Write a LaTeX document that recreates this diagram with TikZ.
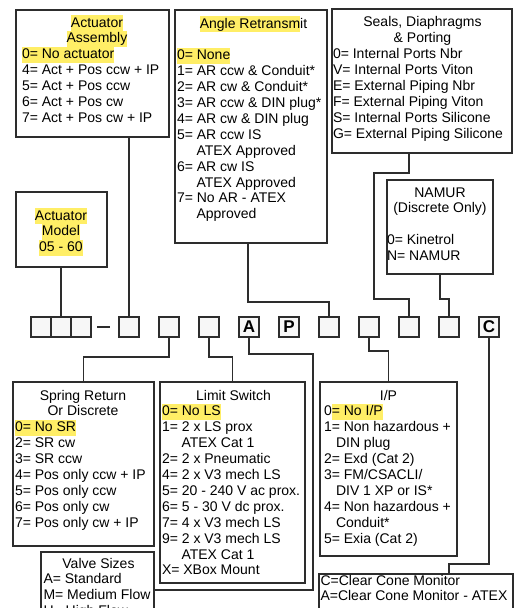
\documentclass[tikz,border=0pt]{standalone}
\usepackage{fontspec}
\setmainfont{Liberation Sans}
\usepackage{array}
\definecolor{hly}{RGB}{255,238,102}
\definecolor{ln}{RGB}{45,45,45}
\newcommand\hl[1]{{\setlength\fboxsep{0pt}\colorbox{hly}{\rule[-3.9pt]{0pt}{15.8pt}#1}}}
\newcommand\boxfont{\fontsize{14}{15.9}\selectfont\setbox\strutbox\hbox{\vrule height 11.9pt depth 4pt width 0pt}}
\newcommand\ind[1]{\hspace*{#1}}
\newcommand\hd[1]{\multicolumn{1}{@{}c@{}}{#1}}
\begin{document}
\begin{tikzpicture}[x=1pt,y=-1pt,
  box/.style={draw=ln, line width=1.2pt, anchor=north west, inner sep=0pt, outer sep=0pt},
  sq/.style={draw=ln, line width=1.2pt, fill=white!97!black, minimum size=20pt, inner sep=0pt, outer sep=0pt, font=\fontsize{17}{17}\selectfont\bfseries},
  txt/.style={anchor=base west, inner sep=0pt, outer sep=0pt, font=\boxfont},
  conn/.style={draw=ln, line width=1.2pt}]
\useasboundingbox (0,0) rectangle (514,608);
\clip (0,0) rectangle (514,608);
\fill[white] (0,0) rectangle (514,608);
% boxes
\node[box, minimum width=153pt, minimum height=127pt] (aa) at (16,10) {};
\node[box, minimum width=152pt, minimum height=233pt] (ar) at (175,10) {};
\node[box, minimum width=180pt, minimum height=144pt] (sd) at (332,9) {};
\node[box, minimum width=106pt, minimum height=94pt] (nm) at (387,180) {};
\node[box, minimum width=91pt, minimum height=75pt] (am) at (16,192) {};
\node[box, minimum width=141pt, minimum height=164pt] (sr) at (13,382) {};
\node[box, minimum width=145pt, minimum height=201pt] (ls) at (160,382) {};
\node[box, minimum width=137pt, minimum height=174pt] (ip) at (320,382) {};
\node[box, minimum width=113pt, minimum height=76pt] (vs) at (41,552) {};
\node[box, minimum width=194pt, minimum height=70pt] (cc) at (319,574) {};
% texts
\node[txt] (taa) at (22,27) {\begin{tabular}[t]{@{}p{150pt}@{}}
\hd{\hl{Actuator}}\\
\hd{\hl{Assembly}}\\
\hl{0= No actuator}\\
4= Act + Pos ccw + IP\\
5= Act + Pos ccw\\
6= Act + Pos cw\\
7= Act + Pos cw + IP
\end{tabular}};
\node[txt] (tar) at (177,28) {\begin{tabular}[t]{@{}p{153pt}@{}}
\hd{\hl{Angle Retransm}it}\\
\\
\hl{0= None}\\
1= AR ccw \& Conduit*\\
2= AR cw \& Conduit*\\
3= AR ccw \& DIN plug*\\
4= AR cw \& DIN plug\\
5= AR ccw IS\\
\ind{19.5pt}ATEX Approved\\
6= AR cw IS\\
\ind{19.5pt}ATEX Approved\\
7= No AR - ATEX\\
\ind{19.5pt}Approved
\end{tabular}};
\node[txt] (tsd) at (333,26.7) {\begin{tabular}[t]{@{}p{179pt}@{}}
\hd{Seals, Diaphragms}\\
\hd{\& Porting}\\
0= Internal Ports Nbr\\
V= Internal Ports Viton\\
E= External Piping Nbr\\
F= External Piping Viton\\
S= Internal Ports Silicone\\
G= External Piping Silicone
\end{tabular}};
\node[txt] (tnm) at (387,197) {\begin{tabular}[t]{@{}p{106pt}@{}}
\hd{NAMUR}\\
\hd{(Discrete Only)}\\
\\
0= Kinetrol\\
N= NAMUR
\end{tabular}};
\node[anchor=base, inner sep=0pt, outer sep=0pt, font=\boxfont] (tam) at (61,220) {\begin{tabular}[t]{@{}c@{}}
\hl{Actuator}\\
\hl{Model}\\
\hl{05 - 60}
\end{tabular}};
\node[txt] (tsr) at (15,400) {\begin{tabular}[t]{@{}p{136pt}@{}}
\hd{Spring Return}\\
\hd{Or Discrete}\\
\hl{0= No SR}\\
2= SR cw\\
3= SR ccw\\
4= Pos only ccw + IP\\
5= Pos only ccw\\
6= Pos only cw\\
7= Pos only cw + IP
\end{tabular}};
\node[txt] (tls) at (162,400) {\begin{tabular}[t]{@{}p{143pt}@{}}
\hd{Limit Switch}\\
\hl{0= No LS}\\
1= 2 x LS prox\\
\ind{19.5pt}ATEX Cat 1\\
2= 2 x Pneumatic\\
4= 2 x V3 mech LS\\
5= 20 - 240 V ac prox.\\
6= 5 - 30 V dc prox.\\
7= 4 x V3 mech LS\\
9= 2 x V3 mech LS\\
\ind{19.5pt}ATEX Cat 1\\
X= XBox Mount
\end{tabular}};
\node[txt] (tip) at (324,400) {\begin{tabular}[t]{@{}p{129pt}@{}}
\hd{I/P}\\
0\hl{= No I/P}\\
1= Non hazardous +\\
\ind{12pt}DIN plug\\
2= Exd (Cat 2)\\
3= FM/CSACLI/\\
\ind{12pt}DIV 1 XP or IS*\\
4= Non hazardous +\\
\ind{12pt}Conduit*\\
5= Exia (Cat 2)
\end{tabular}};
\node[txt] (tvs) at (43.5,568) {\begin{tabular}[t]{@{}p{110pt}@{}}
\hd{Valve Sizes}\\
A= Standard\\
M= Medium Flow\\
H= High Flow
\end{tabular}};
\node[txt] (tcc) at (320.5,585) {\begin{tabular}[t]{@{}p{190pt}@{}}
C=Clear Cone Monitor\\
A=Clear Cone Monitor - ATEX
\end{tabular}};
% code squares
\foreach \n/\x in {1/41,2/61,3/81,4/129,5/169,6/209,9/329,10/369,11/409,12/449}
  \node[sq] (s\n) at (\x,327) {};
\node[sq] (sA) at (249,327) {A};
\node[sq] (sP) at (289,327) {P};
\node[sq] (sC) at (489,327) {C};
% dash
\draw[conn] ([xshift=6pt]s3.east) -- ([xshift=-9pt]s4.west);
% connectors above
\draw[conn] (s2.north |- am.south) -- (s2.north);
\draw[conn] (s4.north |- aa.south) -- (s4.north);
\draw[conn] ([xshift=-3pt]ar.south) -- ++(0,59) -| (s9.north);
\draw[conn] ([xshift=-13pt]sd.south) -- ++(0,20) -- ++(-35,0) -- ++(0,126) -| (s11.north);
\draw[conn] (nm.south) -- ++(0,25) -| (s12.north);
% connectors below
\draw[conn] (s5.south) -- ++(0,20) -| (sr.north);
\draw[conn] (s6.south) -- ++(0,20) -| (ls.north);
\draw[conn] (sA.south) -- ++(0,17) -- ++(64,0) |- ([yshift=-38pt]vs.north east);
\draw[conn] (s10.south) -- ++(0,14) -| (ip.north);
\draw[conn] (sC.south) -- ++(0,227) -| ([xshift=33pt]cc.north);
\end{tikzpicture}
\end{document}
